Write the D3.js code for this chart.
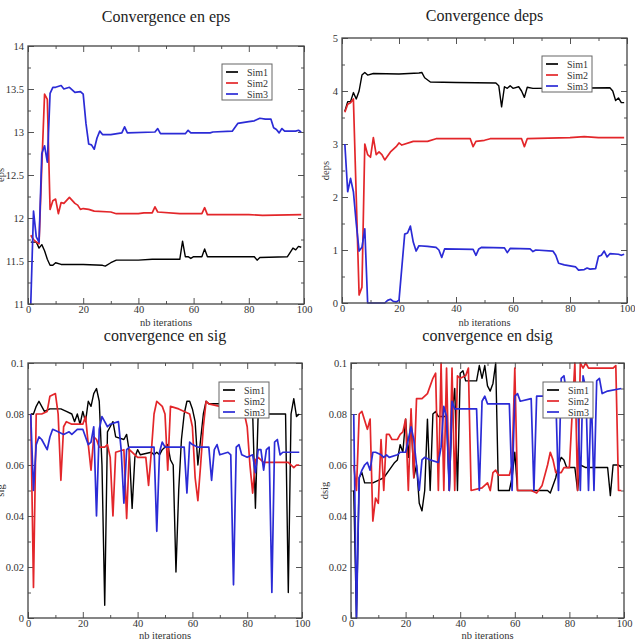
<!DOCTYPE html>
<html>
<head>
<meta charset="utf-8">
<script src="https://d3js.org/d3.v7.min.js"></script>
<style>
  body { margin: 0; background: #fff; }
  svg { display: block; }
  .tick text { font-family: "Liberation Serif", serif; font-size: 10.5px; fill: #333; }
</style>
</head>
<body>
<div id="chart"></div>
<script>
// tick labels
const iterTicks = [0, 20, 40, 60, 80, 100];
const epsTicks = [11, 11.5, 12, 12.5, 13, 13.5, 14];
const depsTicks = [0, 1, 2, 3, 4, 5];
const sigTicks = [0, 0.02, 0.04, 0.06, 0.08, 0.1];
const seriesNames = ["Sim1", "Sim2", "Sim3"];

// Convergence en eps  [iteration, value]
const epsSim1 = [[1,11.72],[3,11.72],[4,11.65],[5,11.69],[6,11.62],[7,11.52],[8,11.45],[9,11.45],[10,11.48],[12,11.46],[20,11.46],[27,11.45],[28,11.44],[30,11.48],[32,11.51],[40,11.51],[45,11.52],[55,11.52],[56,11.73],[57,11.55],[58,11.55],[59,11.53],[60,11.55],[63,11.55],[64,11.64],[65,11.55],[82,11.55],[83,11.51],[84,11.54],[94,11.55],[96,11.65],[97,11.63],[98,11.67],[99,11.66]];
const epsSim2 = [[1,11.8],[2,11.75],[3,11.72],[4,11.7],[5,12.6],[6,13.44],[7,13.38],[8,12.1],[9,12.2],[10,12.22],[11,12.05],[12,12.18],[13,12.17],[15,12.24],[17,12.17],[18,12.15],[19,12.1],[20,12.11],[22,12.1],[24,12.08],[30,12.07],[32,12.05],[40,12.05],[42,12.06],[45,12.06],[46,12.13],[47,12.07],[55,12.05],[63,12.05],[64,12.12],[65,12.04],[80,12.04],[85,12.03],[99,12.04]];
const epsSim3 = [[1,11.0],[2,12.08],[3,11.78],[4,11.72],[5,12.75],[6,12.84],[7,12.65],[8,13.45],[9,13.52],[10,13.52],[12,13.54],[13,13.5],[15,13.52],[17,13.46],[19,13.47],[20,13.44],[21,13.1],[22,12.86],[23,12.85],[24,12.8],[25,12.93],[26,13.01],[27,12.97],[30,12.97],[34,12.99],[35,13.06],[36,12.99],[46,13.0],[47,13.04],[48,12.98],[50,12.98],[57,12.98],[58,13.02],[59,12.99],[66,12.99],[67,13.0],[74,13.01],[76,13.1],[80,13.12],[82,13.13],[84,13.16],[86,13.15],[88,13.15],[89,13.05],[90,13.03],[91,12.99],[92,13.04],[93,13.01],[97,13.01],[98,13.02],[99,13.0]];

// Convergence deps
const depsSim1 = [[1,3.62],[2,3.8],[3,3.8],[4,3.97],[5,3.85],[6,4.0],[7,4.3],[8,4.35],[9,4.3],[11,4.33],[20,4.32],[27,4.34],[28,4.35],[29,4.25],[31,4.17],[40,4.16],[54,4.15],[55,4.1],[56,3.7],[57,4.08],[58,4.05],[59,4.1],[60,4.05],[62,4.08],[63,4.0],[64,3.88],[65,4.07],[67,4.05],[94,4.06],[95,4.0],[96,3.82],[97,3.87],[98,3.78],[99,3.78]];
const depsSim2 = [[1,3.6],[2,3.75],[3,3.78],[4,3.85],[5,2.0],[6,0.15],[7,0.3],[8,3.0],[9,2.8],[10,2.75],[11,3.12],[12,2.8],[13,2.85],[14,2.8],[15,2.7],[17,2.85],[19,2.95],[20,3.02],[21,2.98],[25,3.05],[30,3.05],[33,3.1],[40,3.1],[45,3.1],[46,2.95],[47,3.05],[50,3.07],[52,3.1],[63,3.1],[64,2.95],[65,3.1],[80,3.12],[85,3.14],[90,3.12],[99,3.12]];
const depsSim3 = [[1,3.0],[2,2.1],[3,2.35],[4,2.1],[5,1.5],[6,0.98],[7,1.05],[8,1.4],[9,0.0],[15,0.0],[16,0.05],[17,0.07],[18,0.03],[19,0.02],[20,0.05],[22,1.3],[23,1.32],[24,1.45],[25,1.15],[26,0.98],[27,1.08],[30,1.07],[33,1.05],[34,1.0],[35,0.86],[36,1.02],[46,1.01],[47,0.9],[48,1.02],[49,1.05],[57,1.04],[58,0.95],[59,1.03],[66,1.02],[67,0.97],[68,1.0],[74,0.98],[75,0.9],[76,0.75],[78,0.72],[82,0.68],[83,0.62],[85,0.63],[86,0.66],[87,0.64],[89,0.65],[90,0.88],[91,0.9],[92,0.98],[93,0.87],[94,0.93],[97,0.92],[98,0.9],[99,0.92]];

// convergence en sig
const sigSim1 = [[1,0.08],[2,0.08],[3,0.083],[4,0.085],[5,0.083],[6,0.081],[8,0.082],[12,0.082],[14,0.081],[16,0.08],[17,0.077],[18,0.08],[19,0.076],[20,0.081],[21,0.077],[22,0.085],[23,0.083],[24,0.088],[25,0.09],[26,0.085],[27,0.06],[28,0.005],[29,0.073],[30,0.075],[31,0.077],[32,0.071],[35,0.07],[36,0.072],[37,0.065],[38,0.043],[39,0.063],[40,0.066],[41,0.064],[45,0.065],[46,0.064],[47,0.065],[48,0.064],[49,0.066],[51,0.068],[52,0.062],[53,0.06],[54,0.018],[55,0.05],[56,0.07],[57,0.08],[58,0.085],[59,0.085],[60,0.082],[61,0.077],[62,0.06],[63,0.07],[64,0.08],[65,0.085],[66,0.084],[70,0.084],[75,0.083],[80,0.081],[82,0.08],[83,0.043],[84,0.08],[94,0.08],[95,0.01],[96,0.08],[97,0.086],[98,0.079],[99,0.08]];
const sigSim2 = [[1,0.08],[2,0.012],[3,0.08],[5,0.08],[7,0.081],[8,0.087],[10,0.088],[11,0.08],[12,0.054],[13,0.075],[14,0.077],[16,0.076],[20,0.076],[21,0.079],[22,0.068],[23,0.058],[24,0.071],[25,0.07],[26,0.067],[28,0.067],[29,0.068],[30,0.063],[31,0.04],[32,0.065],[35,0.066],[36,0.039],[37,0.066],[40,0.063],[43,0.063],[44,0.052],[45,0.065],[46,0.08],[47,0.085],[48,0.084],[49,0.083],[50,0.08],[51,0.058],[52,0.083],[55,0.082],[57,0.081],[59,0.08],[60,0.075],[61,0.055],[62,0.046],[63,0.06],[64,0.075],[65,0.085],[66,0.084],[70,0.083],[75,0.079],[79,0.08],[80,0.075],[81,0.06],[82,0.049],[83,0.062],[84,0.063],[86,0.061],[95,0.061],[97,0.059],[98,0.06],[99,0.06]];
const sigSim3 = [[1,0.08],[2,0.05],[3,0.068],[4,0.071],[5,0.07],[7,0.066],[8,0.071],[9,0.074],[11,0.073],[13,0.072],[15,0.073],[16,0.072],[18,0.074],[20,0.074],[21,0.071],[22,0.068],[23,0.069],[24,0.075],[25,0.04],[26,0.074],[27,0.079],[28,0.077],[29,0.075],[30,0.076],[33,0.077],[34,0.066],[35,0.045],[36,0.066],[37,0.067],[46,0.067],[47,0.034],[48,0.065],[49,0.069],[50,0.067],[57,0.067],[58,0.049],[59,0.069],[60,0.068],[62,0.067],[66,0.067],[67,0.054],[68,0.066],[69,0.068],[70,0.064],[73,0.065],[74,0.064],[75,0.013],[76,0.067],[77,0.068],[78,0.064],[80,0.063],[82,0.064],[83,0.057],[84,0.066],[85,0.066],[86,0.058],[87,0.066],[88,0.067],[89,0.01],[90,0.069],[91,0.07],[92,0.064],[93,0.065],[99,0.065]];

// convergence en dsig
const dsigSim1 = [[1,0.05],[2,0.0],[3,0.055],[4,0.057],[5,0.053],[8,0.053],[10,0.054],[12,0.055],[14,0.058],[16,0.061],[17,0.062],[18,0.068],[19,0.065],[20,0.078],[21,0.063],[22,0.079],[23,0.055],[24,0.06],[25,0.045],[26,0.042],[27,0.05],[28,0.078],[29,0.05],[30,0.08],[31,0.081],[32,0.079],[35,0.079],[36,0.05],[37,0.08],[38,0.09],[39,0.05],[40,0.096],[41,0.097],[42,0.093],[46,0.093],[47,0.099],[48,0.094],[49,0.099],[50,0.091],[51,0.089],[52,0.092],[53,0.1],[54,0.05],[58,0.05],[59,0.055],[60,0.065],[61,0.05],[72,0.05],[73,0.049],[75,0.055],[76,0.06],[77,0.063],[78,0.062],[79,0.059],[82,0.059],[83,0.05],[84,0.06],[86,0.059],[94,0.059],[95,0.048],[96,0.06],[98,0.06],[99,0.059]];
const dsigSim2 = [[1,0.06],[2,0.05],[3,0.08],[4,0.081],[6,0.074],[7,0.078],[8,0.038],[9,0.047],[10,0.045],[11,0.07],[12,0.05],[13,0.072],[14,0.072],[15,0.07],[17,0.07],[18,0.072],[19,0.073],[20,0.078],[21,0.05],[22,0.082],[23,0.055],[24,0.086],[26,0.086],[28,0.088],[30,0.094],[31,0.096],[32,0.05],[33,0.1],[34,0.05],[35,0.098],[36,0.05],[37,0.098],[38,0.05],[39,0.095],[40,0.094],[42,0.095],[43,0.098],[44,0.05],[48,0.051],[50,0.053],[51,0.05],[52,0.057],[53,0.058],[54,0.056],[58,0.056],[59,0.06],[60,0.098],[61,0.05],[66,0.05],[68,0.049],[70,0.052],[72,0.06],[73,0.065],[74,0.062],[75,0.057],[77,0.057],[78,0.059],[80,0.059],[81,0.08],[82,0.1],[83,0.05],[84,0.1],[85,0.098],[86,0.1],[87,0.098],[96,0.098],[97,0.099],[98,0.05],[99,0.05]];
const dsigSim3 = [[1,0.08],[2,0.0],[3,0.055],[4,0.058],[5,0.06],[6,0.061],[7,0.058],[8,0.065],[9,0.065],[11,0.064],[12,0.063],[13,0.064],[14,0.063],[17,0.064],[18,0.065],[20,0.065],[21,0.07],[22,0.075],[23,0.07],[24,0.06],[25,0.05],[26,0.062],[27,0.063],[29,0.062],[32,0.061],[33,0.067],[34,0.083],[35,0.079],[36,0.05],[37,0.085],[38,0.082],[46,0.082],[47,0.05],[48,0.085],[49,0.087],[50,0.084],[58,0.084],[59,0.05],[60,0.087],[61,0.088],[62,0.085],[66,0.086],[67,0.05],[68,0.087],[75,0.087],[76,0.05],[77,0.094],[78,0.095],[79,0.088],[83,0.088],[84,0.05],[85,0.095],[86,0.09],[87,0.05],[88,0.089],[89,0.05],[90,0.093],[91,0.094],[92,0.088],[94,0.089],[99,0.09]];

const colors = ["#000000", "#e3262a", "#2b2bd6"];

const svg = d3.select("#chart").append("svg")
    .attr("width", 635)
    .attr("height", 640);

function drawPanel(p) {
    const x = d3.scaleLinear().domain([0, 100]).range([p.left, p.right]);
    const y = d3.scaleLinear().domain(d3.extent(p.yTicks)).range([p.bottom, p.top]);
    const g = svg.append("g");

    // minor ticks sit half-way between the major ones
    const xMinor = d3.pairs(iterTicks).map(([a, b]) => (a + b) / 2);
    const yMinor = d3.pairs(p.yTicks).map(([a, b]) => (a + b) / 2);

    const addAxis = (axis, tr, labels) => {
        const a = g.append("g").attr("transform", tr).call(axis);
        a.select(".domain").remove();
        a.selectAll(".tick line").attr("stroke", "#555").attr("stroke-width", 1);
        if (!labels) a.selectAll(".tick text").remove();
        return a;
    };
    const fmt = d => String(d);
    addAxis(d3.axisBottom(x).tickValues(iterTicks).tickSize(-6).tickPadding(2).tickFormat(fmt), `translate(0,${p.bottom})`, true);
    addAxis(d3.axisBottom(x).tickValues(xMinor).tickSize(-3).tickFormat(""), `translate(0,${p.bottom})`, false);
    addAxis(d3.axisTop(x).tickValues(iterTicks).tickSize(-6).tickFormat(""), `translate(0,${p.top})`, false);
    addAxis(d3.axisTop(x).tickValues(xMinor).tickSize(-3).tickFormat(""), `translate(0,${p.top})`, false);
    addAxis(d3.axisLeft(y).tickValues(p.yTicks).tickSize(-6).tickPadding(4).tickFormat(fmt), `translate(${p.left},0)`, true);
    addAxis(d3.axisLeft(y).tickValues(yMinor).tickSize(-3).tickFormat(""), `translate(${p.left},0)`, false);
    addAxis(d3.axisRight(y).tickValues(p.yTicks).tickSize(-6).tickFormat(""), `translate(${p.right},0)`, false);
    addAxis(d3.axisRight(y).tickValues(yMinor).tickSize(-3).tickFormat(""), `translate(${p.right},0)`, false);

    const line = d3.line().x(d => x(d[0])).y(d => y(d[1]));
    p.series.forEach((s, i) => {
        g.append("path")
            .datum(s)
            .attr("fill", "none")
            .attr("stroke", colors[i])
            .attr("stroke-width", i === 0 ? 1.4 : 1.7)
            .attr("stroke-linejoin", "round")
            .attr("d", line);
    });

    // frame
    g.append("rect")
        .attr("x", p.left).attr("y", p.top)
        .attr("width", p.right - p.left).attr("height", p.bottom - p.top)
        .attr("fill", "none").attr("stroke", "#444").attr("stroke-width", 1.3);

    // title
    g.append("text")
        .attr("x", (p.left + p.right) / 2)
        .attr("y", p.titleY)
        .attr("text-anchor", "middle")
        .attr("font-family", '"Liberation Serif", serif')
        .attr("font-size", "16px")
        .attr("fill", "#222")
        .text(p.title);

    // axis labels
    g.append("text")
        .attr("x", (p.left + p.right) / 2)
        .attr("y", p.xLabelY)
        .attr("text-anchor", "middle")
        .attr("font-family", '"Liberation Serif", serif')
        .attr("font-size", "10.5px")
        .attr("fill", "#333")
        .text("nb iterations");
    g.append("text")
        .attr("transform", `translate(${p.yLabelX},${(p.top + p.bottom) / 2}) rotate(-90)`)
        .attr("text-anchor", "middle")
        .attr("font-family", '"Liberation Serif", serif')
        .attr("font-size", "10.5px")
        .attr("fill", "#333")
        .text(p.yLabel);

    // legend
    const lg = g.append("g").attr("transform", `translate(${p.legend[0]},${p.legend[1]})`);
    lg.append("rect")
        .attr("width", 50).attr("height", 36)
        .attr("fill", "#fff").attr("stroke", "#666").attr("stroke-width", 1);
    seriesNames.forEach((name, i) => {
        const yy = 8 + i * 11;
        lg.append("line")
            .attr("x1", 4).attr("x2", 16).attr("y1", yy).attr("y2", yy)
            .attr("stroke", colors[i]).attr("stroke-width", 1.7);
        lg.append("text")
            .attr("x", 25).attr("y", yy + 3.5)
            .attr("font-family", '"Liberation Serif", serif')
            .attr("font-size", "10px")
            .attr("fill", "#333")
            .text(name);
    });
}

drawPanel({
    left: 28, right: 304, top: 46, bottom: 304,
    yTicks: epsTicks, series: [epsSim1, epsSim2, epsSim3],
    title: "Convergence en eps", titleY: 22, xLabelY: 326, yLabel: "eps", yLabelX: 4,
    legend: [222, 64]
});
drawPanel({
    left: 342, right: 627, top: 38, bottom: 303,
    yTicks: depsTicks, series: [depsSim1, depsSim2, depsSim3],
    title: "Convergence deps", titleY: 21, xLabelY: 326, yLabel: "deps", yLabelX: 329,
    legend: [542, 56]
});
drawPanel({
    left: 28, right: 302, top: 363, bottom: 618,
    yTicks: sigTicks, series: [sigSim1, sigSim2, sigSim3],
    title: "convergence en sig", titleY: 341, xLabelY: 639, yLabel: "sig", yLabelX: 4,
    legend: [219, 382]
});
drawPanel({
    left: 351, right: 624, top: 363, bottom: 618,
    yTicks: sigTicks, series: [dsigSim1, dsigSim2, dsigSim3],
    title: "convergence en dsig", titleY: 341, xLabelY: 639, yLabel: "dsig", yLabelX: 328,
    legend: [543, 382]
});
</script>
</body>
</html>
